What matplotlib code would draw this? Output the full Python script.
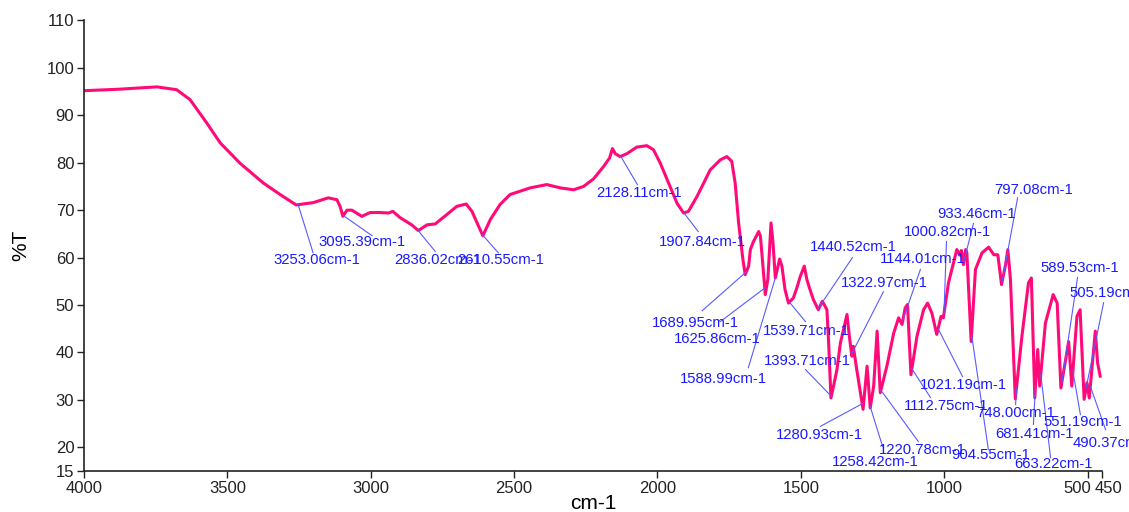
import matplotlib
matplotlib.use("Agg")
import matplotlib.pyplot as plt
import matplotlib.transforms as mtransforms
import numpy as np

# spectrum (wavenumber cm-1, %T)
wavenumber = [3997, 3880, 3746, 3677, 3630, 3572, 3525, 3456, 3374, 3316, 3260, 3200, 3148,
              3118, 3107, 3097, 3083, 3066, 3031, 3002, 2967, 2938, 2923, 2897, 2857, 2834,
              2804, 2775, 2735, 2700, 2667, 2647, 2609, 2583, 2549, 2514, 2444, 2386, 2339,
              2293, 2258, 2223, 2188, 2167, 2157, 2147, 2130, 2107, 2072, 2037, 2014, 1990,
              1956, 1932, 1909, 1892, 1862, 1839, 1816, 1781, 1758, 1741, 1729, 1717, 1702,
              1694, 1682, 1676, 1665, 1647, 1641, 1635, 1624, 1615, 1604, 1597, 1589, 1574,
              1566, 1555, 1543, 1526, 1514, 1502, 1488, 1479, 1470, 1456, 1439, 1425, 1409,
              1403, 1395, 1386, 1374, 1362, 1339, 1330, 1322, 1317, 1305, 1283, 1269, 1258,
              1246, 1234, 1223, 1200, 1176, 1159, 1147, 1136, 1128, 1116, 1095, 1072, 1058,
              1043, 1026, 1011, 1003, 985, 956, 945, 940, 933, 925, 921, 906, 891, 868, 845,
              827, 813, 800, 786, 778, 769, 752, 729, 706, 696, 684, 674, 667, 647, 620, 606,
              593, 566, 555, 537, 526, 512, 502, 494, 473, 465, 456]
transmittance = [95.2, 95.5, 96.0, 95.4, 93.3, 88.4, 84.2, 79.9, 75.7, 73.3, 71.1, 71.6, 72.6,
                 72.2, 70.8, 68.7, 70.0, 70.0, 68.7, 69.5, 69.5, 69.4, 69.75, 68.4, 66.9, 65.7,
                 66.9, 67.1, 69.05, 70.8, 71.3, 69.75, 64.6, 68.0, 71.2, 73.3, 74.7, 75.4, 74.7,
                 74.3, 75.0, 76.6, 79.2, 81.0, 83.0, 81.9, 81.3, 81.9, 83.3, 83.6, 82.75, 79.9,
                 75.0, 71.5, 69.4, 69.75, 72.9, 75.7, 78.5, 80.6, 81.3, 80.3, 75.7, 67.3, 59.6,
                 56.4, 58.2, 61.7, 63.4, 65.5, 64.5, 60.3, 52.2, 55.4, 67.3, 63.1, 55.7, 59.7,
                 58.2, 53.2, 50.4, 51.5, 53.6, 56.0, 58.2, 55.4, 53.6, 51.1, 49.0, 50.8, 49.0,
                 42.0, 30.4, 32.9, 36.4, 42.0, 48.0, 43.0, 39.2, 41.3, 36.4, 28.0, 37.1, 28.3,
                 32.9, 44.5, 31.5, 37.1, 44.1, 47.3, 45.9, 49.4, 50.1, 35.3, 43.4, 49.0, 50.4,
                 48.3, 43.8, 47.6, 47.3, 54.7, 61.7, 60.5, 61.5, 58.5, 61.7, 61.0, 42.3, 57.5,
                 61.0, 62.2, 60.6, 60.6, 54.3, 58.5, 61.7, 55.4, 30.2, 43.4, 54.7, 55.7, 30.4,
                 40.6, 32.9, 46.2, 52.2, 50.4, 32.5, 42.3, 32.9, 47.6, 49.0, 30.1, 33.6, 30.4,
                 44.5, 37.8, 35.0]

# peak labels
peaks = [3253.06, 3095.39, 2836.02, 2610.55, 2128.11, 1907.84, 1689.95, 1625.86, 1588.99,
         1539.71, 1440.52, 1322.97, 1393.71, 1280.93, 1258.42, 1220.78, 1144.01, 1112.75,
         1021.19, 1000.82, 933.46, 904.55, 797.08, 748.00, 681.41, 663.22, 589.53, 551.19,
         505.19, 490.37]

# where each label text sits and where its leader line ends (data coords)
label_xy = [(3187, 59.4), (3030, 63.2), (2768, 59.4), (2548, 59.4), (2063, 73.7), (1844, 63.2),
            (1868, 46.3), (1791, 42.9), (1770, 34.3), (1481, 44.6), (1317, 62.3), (1209, 54.7),
            (1477, 38.1), (1435, 22.5), (1240, 17.0), (1076, 19.5), (1076, 59.6), (992, 28.6),
            (933, 33.2), (989, 65.5), (888, 69.1), (839, 18.3), (689, 74.3), (751, 27.3),
            (685, 22.7), (619, 16.4), (528, 57.7), (518, 25.4), (427, 52.6), (416, 21.0)]
line_end = [(3201, 61.0), (2995, 64.6), (2775, 61.3), (2555, 61.0), (2070, 75.4), (1858, 65.5),
            (1844, 48.8), (1781, 46.5), (1683, 36.8), (1484, 46.5), (1320, 60.0), (1212, 52.8),
            (1484, 36.4), (1432, 24.4), (1215, 20.2), (1090, 21.2), (1083, 57.5), (1048, 30.5),
            (936, 34.9), (992, 63.4), (898, 67.2), (846, 19.5), (744, 72.6), (751, 29.0),
            (689, 24.8), (629, 17.8), (535, 55.8), (525, 26.9), (444, 50.5), (437, 23.7)]

xticks = [4000, 3500, 3000, 2500, 2000, 1500, 1000, 500, 450]
yticks = [15, 20, 30, 40, 50, 60, 70, 80, 90, 100, 110]

plt.rcParams['font.family'] = ['Liberation Sans', 'DejaVu Sans']

fig = plt.figure(figsize=(11.29, 5.12), dpi=100)
ax = fig.add_axes([0.0744, 0.0801, 0.9016, 0.8799])

ax.plot(wavenumber, transmittance, color='#ff0a78', linewidth=2.2, zorder=2)

wn_asc = np.array(wavenumber[::-1])
t_asc = np.array(transmittance[::-1])
for pk, (tx, ty), (ex, ey) in zip(peaks, label_xy, line_end):
    py = np.interp(pk, wn_asc, t_asc)
    ax.plot([pk, ex], [py, ey], color='#5a5aff', linewidth=0.8, zorder=3, clip_on=False)
    ax.text(tx, ty, f"{pk:.2f}cm-1", color='#1a1aff', fontsize=10.7,
            ha='center', va='center', zorder=4)

ax.set_xlim(4000, 450)
ax.set_ylim(15, 110)
ax.set_xticks(xticks)
ax.set_yticks(yticks)
ax.tick_params(labelsize=12, length=5, width=1, colors='#222222', direction='out', pad=2)
for s in ['top', 'right']:
    ax.spines[s].set_visible(False)
for s in ['left', 'bottom']:
    ax.spines[s].set_linewidth(1.2)
    ax.spines[s].set_color('#222222')

# the 500 and 450 labels sit side by side, as in the source software
xlabels = ax.get_xticklabels()
shifts = {'500': -10, '450': 7}
for lab in xlabels:
    if lab.get_text() in shifts:
        lab.set_transform(lab.get_transform() +
                          mtransforms.ScaledTranslation(shifts[lab.get_text()] / 100, 0,
                                                        fig.dpi_scale_trans))

ax.set_xlabel('cm-1', fontsize=15)
ax.xaxis.set_label_coords(0.5, -0.052)
ax.set_ylabel('%T', fontsize=15)
ax.yaxis.set_label_coords(-0.053, 0.5)

fig.savefig('out.png', dpi=100)
